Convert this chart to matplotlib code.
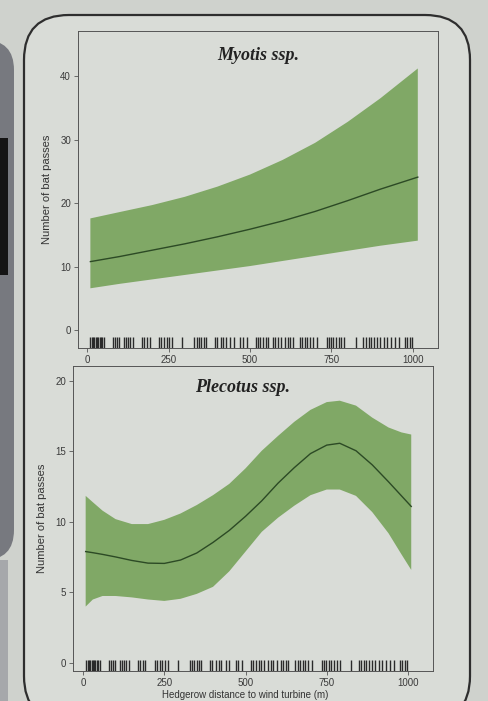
import numpy as np
import matplotlib
matplotlib.use("Agg")
import matplotlib.pyplot as plt
from matplotlib.patches import FancyBboxPatch, Rectangle
from matplotlib.transforms import Affine2D

dist_ticks = [0, 250, 500, 750, 1000]

# Myotis ssp. — GAM fit with confidence band
myo_x = [10, 100, 200, 300, 400, 500, 600, 700, 800, 900, 1015]
myo_fit = [10.8, 11.6, 12.6, 13.6, 14.7, 15.9, 17.2, 18.7, 20.4, 22.2, 24.1]
myo_upper = [17.6, 18.6, 19.7, 21.0, 22.6, 24.5, 26.8, 29.5, 32.8, 36.5, 41.2]
myo_lower = [6.6, 7.3, 8.0, 8.7, 9.4, 10.1, 10.9, 11.7, 12.5, 13.3, 14.1]
myo_yticks = [0, 10, 20, 30, 40]

# Plecotus ssp.
ple_x = [8, 30, 60, 100, 150, 200, 250, 300, 350, 400, 450, 500,
         550, 600, 650, 700, 750, 790, 840, 890, 940, 980, 1010]
ple_fit = [7.9, 7.82, 7.7, 7.52, 7.27, 7.08, 7.06, 7.3, 7.8, 8.55, 9.4, 10.4,
           11.5, 12.75, 13.85, 14.85, 15.45, 15.58, 15.05, 14.05, 12.85, 11.85, 11.1]
ple_upper = [11.85, 11.4, 10.8, 10.2, 9.85, 9.85, 10.15, 10.6, 11.2, 11.9, 12.7, 13.8,
             15.05, 16.1, 17.1, 17.95, 18.5, 18.6, 18.25, 17.4, 16.7, 16.35, 16.2]
ple_lower = [4.0, 4.5, 4.75, 4.75, 4.65, 4.5, 4.4, 4.55, 4.9, 5.4, 6.5, 7.9,
             9.3, 10.3, 11.15, 11.9, 12.3, 12.3, 11.85, 10.7, 9.2, 7.7, 6.6]
ple_yticks = [0, 5, 10, 15, 20]

# sampled hedgerow distances (rug)
rug = [10, 14, 18, 22, 26, 30, 34, 38, 42, 46, 52, 80, 86, 92, 98, 114, 120, 126,
       132, 140, 168, 176, 184, 192, 220, 228, 236, 244, 252, 260, 292, 328, 336,
       342, 350, 358, 364, 392, 398, 410, 418, 426, 440, 450, 470, 478, 490, 518,
       524, 532, 540, 548, 556, 570, 578, 586, 596, 608, 616, 624, 632, 652, 660,
       668, 676, 684, 692, 705, 735, 742, 748, 756, 764, 772, 780, 790, 826, 848,
       856, 864, 872, 880, 890, 898, 910, 920, 932, 944, 956, 975, 982, 990, 998]

W, H = 489, 701
BG = "#cfd2cd"
PANEL = "#d9dcd7"
FILL = "#80a866"
LINE = "#2c4a25"
SANS = "Liberation Sans"

fig = plt.figure(figsize=(W / 100, H / 100), dpi=100, facecolor=BG)
px = Affine2D().scale(1 / 100) + fig.dpi_scale_trans

# ── Poster background bits (behind the axes) ───────────────
fig.patches.append(FancyBboxPatch((-40, 141), 54, 520, boxstyle="round,pad=0,rounding_size=30",
                                  transform=px, fc="#77797f", ec="none", zorder=-3))
fig.patches.append(Rectangle((0, 426), 8, 137, transform=px, fc="#141414", ec="none", zorder=-2))
fig.patches.append(Rectangle((0, 0), 8, 141, transform=px, fc="#a6a8ab", ec="none", zorder=-2))
fig.patches.append(FancyBboxPatch((24, -20), 446, 706, boxstyle="round,pad=0,rounding_size=45",
                                  transform=px, fc=PANEL, ec="#2e2e2e", lw=1.6, zorder=-1))


def panel(rect, x, fit, lower, upper, yticks, xlim, ylim, title, tx, ty):
    ax = fig.add_axes(rect)
    ax.set_facecolor(PANEL)
    ax.fill(np.r_[x, x[::-1]], np.r_[upper, lower[::-1]], color=FILL, lw=0, zorder=1)
    ax.plot(x, fit, color=LINE, lw=1.0, zorder=2)
    ax.vlines(rug, 0, 0.035, transform=ax.get_xaxis_transform(), color="#2a2a2a", lw=1.0)
    ax.set_xlim(xlim)
    ax.set_ylim(ylim)
    ax.set_xticks(dist_ticks)
    ax.set_yticks(yticks)
    ax.tick_params(length=3, width=0.6, color="#555555", labelsize=7, labelcolor="#3a3a3a", pad=2)
    for lab in ax.get_xticklabels() + ax.get_yticklabels():
        lab.set_family(SANS)
    for s in ax.spines.values():
        s.set_color("#555555")
        s.set_linewidth(0.7)
    ax.set_ylabel("Number of bat passes", fontsize=8, color="#333333", family=SANS, labelpad=6)
    ax.text(tx, ty, title, transform=ax.transAxes, ha="center", va="center",
            fontsize=13, style="italic", weight="bold", family="Liberation Serif", color="#222222")
    return ax


panel([78 / W, 353 / H, 360 / W, 317 / H], np.array(myo_x), np.array(myo_fit),
      np.array(myo_lower), np.array(myo_upper), myo_yticks,
      (-28, 1077), (-2.8, 47.1), "Myotis ssp.", 0.5, 0.924)

panel([73 / W, 30 / H, 360 / W, 305 / H], np.array(ple_x), np.array(ple_fit),
      np.array(ple_lower), np.array(ple_upper), ple_yticks,
      (-31, 1077), (-0.57, 21.06), "Plecotus ssp.", 0.47, 0.931)

fig.text(245 / W, 1 / H, "Hedgerow distance to wind turbine (m)", ha="center", va="bottom",
         fontsize=7, color="#333333", family=SANS)

fig.savefig("out.png", dpi=100, facecolor=BG)
